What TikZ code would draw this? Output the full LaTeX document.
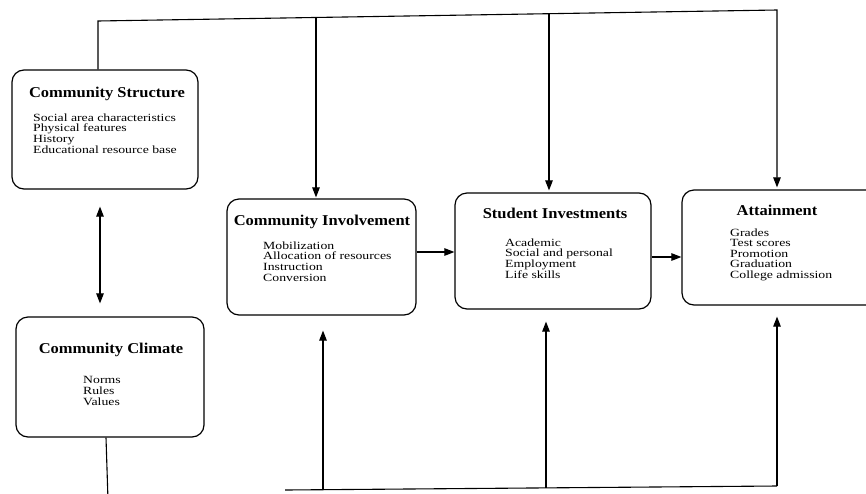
\documentclass[tikz,border=0pt]{standalone}
\usepackage{fontspec}
\setmainfont{Liberation Serif}
\newfontfamily\ttlfont[FakeStretch=1.1]{Liberation Serif}
\newfontfamily\itmfont[FakeStretch=1.25]{Liberation Serif}
\usetikzlibrary{arrows.meta}
\begin{document}
\begin{tikzpicture}[x=1pt,y=-1pt,
  box/.style={draw, line width=1.2pt, rounded corners=12pt, inner sep=0pt},
  ttl/.style={inner sep=0pt, anchor=base, font=\ttlfont\bfseries\fontsize{15}{16}\selectfont},
  itm/.style={inner sep=0pt, anchor=base west, align=left, font=\itmfont\fontsize{11}{10.6}\selectfont},
  conn/.style={line width=1.1pt},
  arr/.style={conn, -{Triangle[length=10pt,width=7.5pt]}},
  dbl/.style={conn, {Triangle[length=10pt,width=7.5pt]}-{Triangle[length=10pt,width=7.5pt]}}]
\useasboundingbox (0,0) rectangle (866,493);
\clip (0,0) rectangle (866,493);
\fill[white] (0,0) rectangle (866,493);

% boxes
\node[box, minimum width=186pt, minimum height=119pt] (CS) at (105,129.5) {};
\node[box, minimum width=188pt, minimum height=120pt] (CC) at (110,377) {};
\node[box, minimum width=189pt, minimum height=116pt] (CI) at (321.5,257) {};
\node[box, minimum width=196pt, minimum height=116pt] (SI) at (553,251) {};
\node[box, minimum width=204pt, minimum height=115pt] (AT) at (784,247.5) {};

% texts (item nodes anchored at the baseline of their last line)
\node[ttl] (CSt) at (107,97) {Community Structure};
\node[itm] (CSi) at (33,153) {Social area characteristics\\Physical features\\History\\Educational resource base};
\node[ttl] (CCt) at (111,353) {Community Climate};
\node[itm] (CCi) at (83,405) {Norms\\Rules\\Values};
\node[ttl] (CIt) at (322,225) {Community Involvement};
\node[itm] (CIi) at (263,281) {Mobilization\\Allocation of resources\\Instruction\\Conversion};
\node[ttl] (SIt) at (555,218) {Student Investments};
\node[itm] (SIi) at (505,278) {Academic\\Social and personal\\Employment\\Life skills};
\node[ttl] (ATt) at (777,215) {Attainment};
\node[itm] (ATi) at (730,278.5) {Grades\\Test scores\\Promotion\\Graduation\\College admission};

% top feedback line
\coordinate (tl) at (98,21);
\coordinate (tr) at (777,10);
\coordinate (b1) at (316,17.5);
\coordinate (b2) at (549,13.7);
\draw[arr, shorten >=2pt] (CS.north -| tl) -- (tl) -- (tr) -- (AT.north -| tr);
\draw[arr, shorten >=1pt] (b1) -- (b1 |- CI.north);
\draw[arr, shorten >=2pt] (b2) -- (b2 |- SI.north);

% double arrow
\coordinate (da) at (100,0);
\draw[dbl, shorten <=17pt, shorten >=13pt] (CS.south -| da) -- (CC.north -| da);

% climate line
\coordinate (cl) at (108,500);
\draw[conn] (CC.south -| 106,0) -- (cl);

% bottom line
\coordinate (bl) at (285,490);
\coordinate (br) at (777,486);
\coordinate (u1) at (323,489.7);
\coordinate (u2) at (546,487.9);
\draw[conn] (bl) -- (br);
\draw[arr, shorten >=11pt] (br) -- (AT.south -| br);
\draw[arr, shorten >=15pt] (u1) -- (u1 |- CI.south);
\draw[arr, shorten >=12pt] (u2) -- (u2 |- SI.south);

% horizontal arrows
\coordinate (h1) at (0,252);
\coordinate (h2) at (0,257);
\draw[arr] (CI.east |- h1) -- (SI.west |- h1);
\draw[arr] (SI.east |- h2) -- (AT.west |- h2);
\end{tikzpicture}
\end{document}
